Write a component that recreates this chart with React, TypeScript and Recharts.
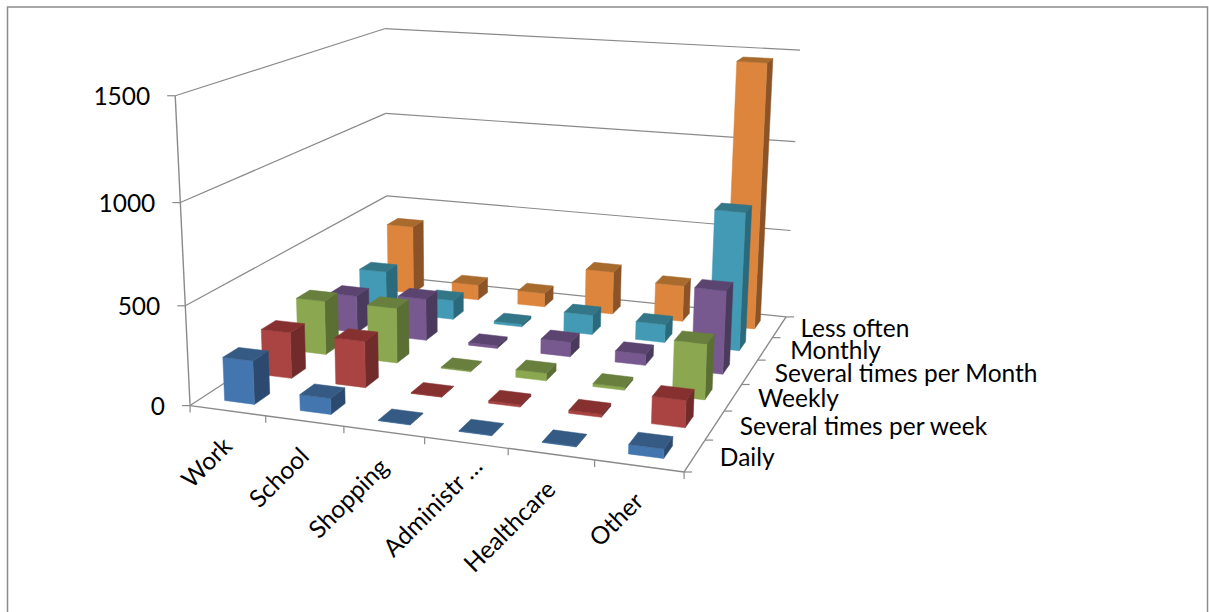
import { BarChart, Bar, XAxis, YAxis, CartesianGrid } from 'recharts'

const categories = ['Work', 'School', 'Shopping', 'Administr …', 'Healthcare', 'Other']
const seriesNames = ['Daily', 'Several times per week', 'Weekly', 'Several times per Month', 'Monthly', 'Less often']

const daily = [220, 80, 3, 3, 3, 45]
const severalPerWeek = [240, 240, 3, 12, 15, 135]
const weekly = [290, 295, 5, 40, 15, 285]
const severalPerMonth = [205, 230, 15, 80, 60, 440]
const monthly = [235, 110, 15, 110, 100, 750]
const lessOften = [400, 90, 80, 245, 205, 1465]

const seriesValues = [daily, severalPerWeek, weekly, severalPerMonth, monthly, lessOften]
const valueTicks = [0, 500, 1000, 1500]

// front, top and side shades of each series
const shades = [
   ['#4376AE', '#355A84', '#2C4A70'],
   ['#A94442', '#863030', '#702B2A'],
   ['#8BA850', '#697F3D', '#5B6F35'],
   ['#77598F', '#5B4470', '#4A3A5C'],
   ['#429AB4', '#337687', '#2A6A7C'],
   ['#DD853C', '#A96A2E', '#8A5428']
]

const rows = categories.map((name, i) => {
   const row: Record<string, string | number> = { name }
   seriesNames.forEach((s, j) => { row[s] = seriesValues[j][i] })
   return row
})

const W = 1209
const H = 612
const margin = { top: 100, right: 100, bottom: 99, left: 99 }
const plotLeft = 100
const plotBottom = H - 100
const plotW = W - 200
const plotH = H - 200

const fontFamily = 'Lato, sans-serif'
const fontSize = 24.5
const axisColor = '#8a8a8a'
const rowGap = 0.3

// box corners (across, depth, height) and where they land on the page
const camera: number[][] = [
   [0, 0, 0, 190, 406], [1, 0, 0, 684, 472], [1, 1, 0, 786, 316.7], [0, 1, 0, 388, 276],
   [0, 0, 1, 175, 96], [0, 1, 1, 385, 28.7], [1, 1, 1, 800, 50],
   [0, 0, 1 / 3, 186, 305.7], [0, 0, 2 / 3, 180, 202],
   [1, 1, 1 / 3, 791, 230.7], [1, 1, 2 / 3, 795, 141.7],
   [0, 1, 1 / 3, 386.7, 196], [0, 1, 2 / 3, 385.5, 113.5]
]

// least squares fit of the 3x4 projection
const solveProjection = (pts: number[][]): number[] => {
   const eqs: number[][] = []
   pts.forEach(([u, v, w, x, y]) => {
      eqs.push([u, v, w, 1, 0, 0, 0, 0, -x * u, -x * v, -x * w, x])
      eqs.push([0, 0, 0, 0, u, v, w, 1, -y * u, -y * v, -y * w, y])
   })
   const n = 11
   const m = Array.from({ length: n }, (_, r) => Array.from({ length: n + 1 }, (_, c) =>
      eqs.reduce((sum, e) => sum + e[r] * e[c], 0)))
   for (let c = 0; c < n; c++) {
      let best = c
      for (let r = c + 1; r < n; r++) if (Math.abs(m[r][c]) > Math.abs(m[best][c])) best = r
      const tmp = m[c]; m[c] = m[best]; m[best] = tmp
      for (let r = 0; r < n; r++) {
         if (r === c) continue
         const f = m[r][c] / m[c][c]
         for (let k = c; k <= n; k++) m[r][k] -= f * m[c][k]
      }
   }
   return m.map((r, i) => r[n] / r[i])
}

const P = solveProjection(camera)

const project = (u: number, v: number, w: number): [number, number] => {
   const d = P[8] * u + P[9] * v + P[10] * w + 1
   return [
      (P[0] * u + P[1] * v + P[2] * w + P[3]) / d,
      (P[4] * u + P[5] * v + P[6] * w + P[7]) / d
   ]
}

const toU = (x: number) => (x - plotLeft) / plotW
const toW = (y: number) => (plotBottom - y) / plotH

const poly = (pts: [number, number][]) => pts.map(p => p[0].toFixed(2) + ',' + p[1].toFixed(2)).join(' ')

const Seg = ({ a, b, width = 1.2 }: { a: [number, number], b: [number, number], width?: number }) => (
   <line x1={ a[0] } y1={ a[1] } x2={ b[0] } y2={ b[1] } stroke={ axisColor } strokeWidth={ width } />
)

// a bar becomes a box standing on the floor, one row deep per series
const makeBox = (s: number) => (props: any) => {
   const { x, y, width } = props
   const u0 = toU(x)
   const u1 = toU(x + width)
   const w = toW(y)
   const v0 = (s + rowGap) / 6
   const v1 = (s + 1 - rowGap) / 6
   const [front, top, side] = shades[s]
   return (
      <g>
         <polygon fill={ side } stroke={ side } strokeWidth={ 0.5 } points={ poly([project(u1, v0, 0), project(u1, v1, 0), project(u1, v1, w), project(u1, v0, w)]) } />
         <polygon fill={ front } stroke={ front } strokeWidth={ 0.5 } points={ poly([project(u0, v0, 0), project(u1, v0, 0), project(u1, v0, w), project(u0, v0, w)]) } />
         <polygon fill={ top } stroke={ top } strokeWidth={ 0.5 } points={ poly([project(u0, v0, w), project(u1, v0, w), project(u1, v1, w), project(u0, v1, w)]) } />
      </g>
   )
}

const renderGridLine = (props: any) => {
   const w = toW(props.y1)
   return (
      <g key={ props.key ?? w }>
         <Seg a={ project(0, 0, w) } b={ project(0, 1, w) } />
         <Seg a={ project(0, 1, w) } b={ project(1, 1, w) } />
      </g>
   )
}

const renderValueTick = (props: any) => {
   const w = toW(props.y)
   const [x, y] = project(0, 0, w)
   return (
      <g>
         <Seg a={ [x - 8, y] } b={ [x, y] } />
         <text x={ x - 25 } y={ y + 9 } textAnchor='end' fontSize={ fontSize } fontFamily={ fontFamily } fill='#000'>{ props.payload.value }</text>
      </g>
   )
}

const renderCategoryTick = (props: any) => {
   const u = toU(props.x)
   const [x, y] = project(u, 0, 0)
   // the shortened label runs further up towards the axis
   const nudge = String(props.payload.value).endsWith('…') ? 12 : 0
   const lx = x + 6 + nudge
   const ly = y + 37 - nudge
   return (
      <text x={ lx } y={ ly } transform={ `rotate(-45 ${lx} ${ly})` } textAnchor='end' fontSize={ fontSize } fontFamily={ fontFamily } fill='#000'>
         { props.payload.value }
      </text>
   )
}

const Frame = () => (
   <g>
      <rect x={ 7.5 } y={ 7 } width={ 1200 } height={ 640 } fill='none' stroke='#8c8c8c' strokeWidth={ 1.5 } />
      <Seg a={ project(0, 0, 0) } b={ project(0, 0, 1) } width={ 1.4 } />
      <Seg a={ project(0, 0, 0) } b={ project(1, 0, 0) } width={ 1.4 } />
      <Seg a={ project(1, 0, 0) } b={ project(1, 1, 0) } width={ 1.4 } />
      { categories.concat('').map((_, i) => {
         const p = project(i / 6, 0, 0)
         return <Seg key={ i } a={ p } b={ [p[0], p[1] + 7] } />
      }) }
      { seriesNames.concat('').map((_, i) => {
         const p = project(1, i / 6, 0)
         return <Seg key={ i } a={ p } b={ [p[0] + 8, p[1]] } />
      }) }
      { seriesNames.map((name, i) => {
         const p = project(1, (i + 0.5) / 6, 0)
         // the last row sits a little closer to the axis
         const dx = i === seriesNames.length - 1 ? 21 : 25
         return (
            <text key={ name } x={ p[0] + dx } y={ p[1] + 10 } fontSize={ fontSize } fontFamily={ fontFamily } fill='#000'>{ name }</text>
         )
      }) }
   </g>
)

const App = () => (
   <div style={{ position: 'absolute', left: 0, top: 0, width: W, height: H, background: '#fff' }}>
      <BarChart width={ W } height={ H } data={ rows } margin={ margin } barCategoryGap='30%'>
         <CartesianGrid horizontal={ renderGridLine } vertical={ false } />
         <Frame />
         <YAxis domain={ [0, 1500] } ticks={ valueTicks } width={ 1 } axisLine={ false } tickLine={ false } tick={ renderValueTick } />
         { seriesNames.map((_, s) => (
            <XAxis
               key={ s }
               xAxisId={ s }
               dataKey='name'
               height={ 1 }
               hide={ s > 0 }
               interval={ 0 }
               axisLine={ false }
               tickLine={ false }
               tick={ renderCategoryTick }
            />
         )) }
         { seriesNames.map((_, i) => {
            // back row first so nearer boxes cover it
            const s = seriesNames.length - 1 - i
            return (
               <Bar
                  key={ s }
                  xAxisId={ s }
                  dataKey={ seriesNames[s] }
                  shape={ makeBox(s) }
                  isAnimationActive={ false }
               />
            )
         }) }
      </BarChart>
   </div>
)

export default App
